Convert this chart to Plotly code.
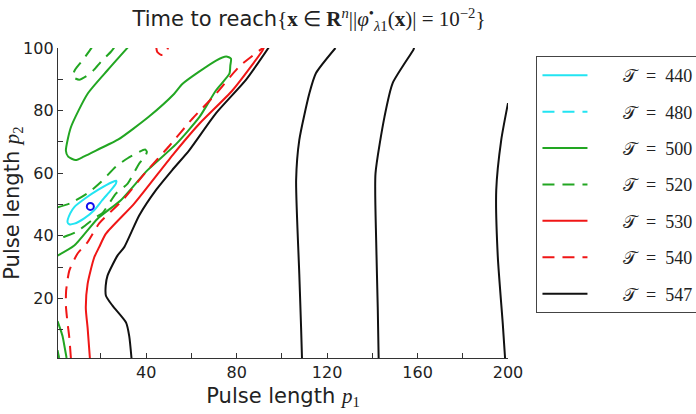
import plotly.graph_objects as go

# ---------------- data ----------------
# contour levels shown in the legend
levels = [440, 480, 500, 520, 530, 540, 547]

# T = 440 (cyan, solid): small closed loop around the optimum
c440_x = [5.2, 6.4, 8.2, 13.1, 18.5, 25.1, 26.8, 26.6, 24.4, 20.6, 17.0, 12.6, 8.2, 6.0, 5.2]
c440_y = [44.4, 47.2, 49.2, 52.0, 54.6, 57.2, 57.6, 56.7, 54.6, 51.4, 48.2, 45.6, 43.9, 43.7, 44.4]

# T = 500 (green, solid)
c500a_x = [31.9, 22.9, 14.1, 6.7, 4.5, 5.5, 8.8, 12.6, 19.6, 27.7, 41.4, 52.4, 56.1, 70.9, 75.4,
           77.5, 77.2, 76.8, 70.9, 63.5, 53.2, 40.6, 28.8, 18.5, 8.2, 0.8]
c500a_y = [100.2, 92.9, 85.4, 74.7, 67.2, 65.3, 64.2, 65.4, 67.9, 70.8, 78.2, 85.4, 88.6, 96.0, 97.3,
           96.6, 94.4, 91.8, 86.5, 77.9, 69.3, 61.0, 51.4, 45.5, 36.9, 33.7]
c500b_x = [0.8, 2.0, 3.0, 4.0, 4.8]
c500b_y = [12.8, 10.3, 8.0, 4.2, 1.0]
c500c_x = [0.8, 1.5]
c500c_y = [3.5, 1.0]

# T = 520 (green, dashed)
c520a_x = [16.2, 15.6, 11.9, 8.6, 7.4, 10.4, 14.1, 17.0, 20.0, 24.4, 25.9]
c520a_y = [100.5, 99.8, 96.1, 93.1, 90.8, 89.9, 91.3, 93.1, 95.6, 98.8, 100.2]
c520b_x = [0.8, 6.7, 14.8, 20.0, 26.6, 31.8, 36.0, 39.5, 40.3, 39.2, 36.9, 31.8, 26.6, 20.7, 17.8, 8.9, 1.5, 0.8]
c520b_y = [49.1, 50.5, 54.0, 57.2, 62.1, 64.8, 66.5, 67.6, 66.8, 65.0, 63.1, 56.7, 53.5, 47.3, 46.0, 41.2, 39.1, 38.8]

# T = 530 (red, solid)
c530_x = [15.1, 14.1, 13.3, 14.1, 17.0, 19.2, 22.2, 34.7, 51.7, 63.5, 78.2, 91.5, 92.2]
c530_y = [1.0, 10.6, 17.0, 24.7, 33.1, 36.4, 40.7, 50.3, 65.8, 75.8, 86.5, 99.3, 100.5]

# T = 540 (red, dashed)
c540a_x = [6.7, 6.0, 5.2, 4.5, 4.6, 6.0, 9.6, 14.1, 19.2, 29.6, 39.9, 50.2, 60.4, 70.9, 81.2, 92.3]
c540a_y = [1.0, 7.5, 12.3, 17.7, 22.5, 28.9, 34.3, 38.0, 44.0, 51.4, 60.4, 68.7, 77.4, 85.4, 94.1, 100.4]
c540b_x = [44.4, 44.9, 46.7, 48.5, 49.7]
c540b_y = [100.5, 98.7, 97.8, 98.2, 100.2]

# T = 547 (black, solid)
c547a_x = [33.5, 32.5, 31.1, 25.1, 22.2, 22.1, 22.9, 27.3, 30.3, 36.9, 44.3, 51.5, 59.1, 70.9, 84.2, 94.5]
c547a_y = [1.0, 8.0, 12.3, 17.7, 20.9, 24.1, 27.3, 33.7, 36.4, 46.5, 54.6, 61.0, 67.4, 79.2, 89.9, 100.5]
c547b_x = [108.9, 108.5, 107.7, 106.3, 107.7, 112.2, 115.1, 123.7]
c547b_y = [1.0, 10.7, 27.9, 57.8, 70.6, 85.6, 92.0, 100.0]
c547c_x = [142.8, 142.4, 141.7, 141.4, 145.4, 149.0, 158.2, 158.5]
c547c_y = [1.0, 17.1, 38.5, 59.9, 78.1, 88.8, 99.5, 100.2]
c547d_x = [198.7, 197.7, 195.5, 194.8, 197.0, 200.0]
c547d_y = [1.0, 11.8, 33.2, 54.6, 70.6, 82.4]

# optimum marker
opt_x = [15.3]
opt_y = [49.4]

# ---------------- styles ----------------
CYAN = "#22e4f2"
GREEN = "#22a622"
RED = "#f01616"
BLACK = "#111111"
DASH = "12px,8px"

styles = {
    440: (CYAN, "solid"),
    480: (CYAN, DASH),
    500: (GREEN, "solid"),
    520: (GREEN, DASH),
    530: (RED, "solid"),
    540: (RED, DASH),
    547: (BLACK, "solid"),
}

curves = {
    440: [(c440_x, c440_y)],
    480: [],
    500: [(c500a_x, c500a_y), (c500b_x, c500b_y), (c500c_x, c500c_y)],
    520: [(c520a_x, c520a_y), (c520b_x, c520b_y)],
    530: [(c530_x, c530_y)],
    540: [(c540a_x, c540a_y), (c540b_x, c540b_y)],
    547: [(c547a_x, c547a_y), (c547b_x, c547b_y), (c547c_x, c547c_y), (c547d_x, c547d_y)],
}

fig = go.Figure()
for lev in levels:
    col, dash = styles[lev]
    segs = curves[lev] if curves[lev] else [([None], [None])]
    for i, (xs, ys) in enumerate(segs):
        fig.add_trace(go.Scatter(
            x=xs, y=ys, mode="lines",
            line=dict(color=col, width=2, dash=dash, shape="spline", smoothing=0.6),
            name="\u2002\u2002\u2002\u2009\U0001D4AF\u2002=\u2002" + str(lev) + "\u2009",
            legendgroup=str(lev), showlegend=(i == 0),
            hoverinfo="skip",
        ))

fig.add_trace(go.Scatter(
    x=opt_x, y=opt_y, mode="markers",
    marker=dict(symbol="circle-open", size=7, color="#1010ee", line=dict(width=2, color="#1010ee")),
    showlegend=False, hoverinfo="skip",
))

serif = "Liberation Serif, DejaVu Serif, serif"
title_text = ("Time to reach<span style=\"font-family:Liberation Serif\">{<b>x</b> \u2208 <b>R</b><sup><i>n</i></sup>"
              "||<i>\u03c6</i><sup>\u2022</sup><sub><i>\u03bb</i>1</sub>(<b>x</b>)| = 10<sup>\u22122</sup>}</span>")

fig.update_layout(
    width=696, height=414,
    margin=dict(l=58, r=187.5, t=48, b=56, autoexpand=False),
    paper_bgcolor="white", plot_bgcolor="white",
    font=dict(family="DejaVu Sans, sans-serif", color="#222222"),
    title=dict(text=title_text, x=309 / 696, xanchor="center", y=1 - 19 / 414, yanchor="middle",
               font=dict(size=21, family="DejaVu Sans")),
    legend=dict(
        x=(537 - 58) / 450.5, xanchor="left", y=0.974, yanchor="top",
        bgcolor="white", bordercolor="#444444", borderwidth=1,
        font=dict(family=serif, size=18, color="#222222"),
        tracegroupgap=10, itemwidth=45,
        traceorder="grouped",
    ),
    showlegend=True,
)

fig.update_xaxes(
    range=[1, 200], showgrid=False, zeroline=False,
    showline=True, linecolor="#333333", linewidth=1.3, mirror=False,
    tick0=0, dtick=40, ticks="inside", ticklen=5, tickwidth=1.2, tickcolor="#333333",
    minor=dict(dtick=20, ticks="inside", ticklen=5, tickwidth=1.2, tickcolor="#333333"),
    tickfont=dict(size=16, family="DejaVu Sans", color="#222222"),
    title=dict(text="Pulse length <span style=\"font-family:Liberation Serif\"><i>p</i><sub>1</sub></span>",
               font=dict(size=21, family="DejaVu Sans", color="#222222"), standoff=6),
)
fig.update_yaxes(
    range=[1, 100], showgrid=False, zeroline=False,
    showline=True, linecolor="#333333", linewidth=1.3, mirror=False,
    tick0=0, dtick=20, ticks="inside", ticklen=5, tickwidth=1.2, tickcolor="#333333",
    minor=dict(dtick=10, ticks="inside", ticklen=5, tickwidth=1.2, tickcolor="#333333"),
    tickfont=dict(size=16, family="DejaVu Sans", color="#222222"),
    title=dict(text="Pulse length <span style=\"font-family:Liberation Serif\"><i>p</i><sub>2</sub></span>",
               font=dict(size=21, family="DejaVu Sans", color="#222222"), standoff=3),
)

fig.write_html("out.html")
